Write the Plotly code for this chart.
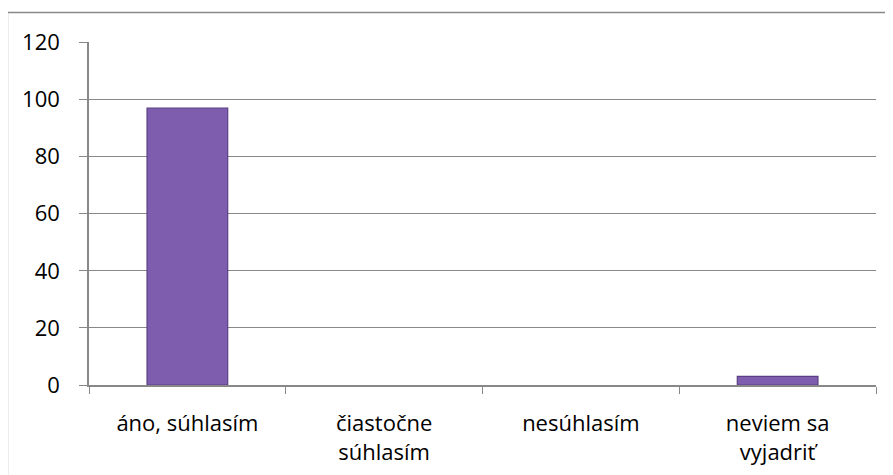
import plotly.graph_objects as go

categories = ["áno, súhlasím", "čiastočne<br>súhlasím", "nesúhlasím", "neviem sa<br>vyjadriť"]
values = [97, 0, 0, 3]
y_ticks = [0, 20, 40, 60, 80, 100, 120]

OFF = 8  # default page body margin
W, H = 893, 475
L, T = 89 - OFF, 42 - OFF
pw, ph = 787, 343
R = W - L - pw
B = H - T - ph

fig = go.Figure()
fig.add_trace(go.Bar(
    x=categories, y=values,
    width=0.41,
    marker=dict(color="#7E5DAE",
                line=dict(color="#5A3F86", width=[1.2 if v > 0 else 0 for v in values])),
))

def px2paper_x(px):
    return (px - OFF - L) / pw

def px2paper_y(py):
    return (T + ph - (py - OFF)) / ph

fig.add_shape(type="rect", xref="paper", yref="paper",
              x0=px2paper_x(7.5), x1=px2paper_x(910),
              y0=px2paper_y(495), y1=px2paper_y(12.5),
              line=dict(color="#888888", width=1.3), fillcolor="rgba(0,0,0,0)", layer="below")

fig.update_layout(
    width=W, height=H,
    margin=dict(l=L, r=R, t=T, b=B),
    paper_bgcolor="white", plot_bgcolor="white",
    showlegend=False,
    font=dict(family="Open Sans, Noto Sans, sans-serif", size=22, color="#000000"),
    xaxis=dict(
        type="category", tickson="boundaries", ticks="outside", ticklen=7,
        tickcolor="#888888", showline=True, linecolor="#888888", linewidth=1.5,
        showgrid=False, tickfont=dict(size=22), automargin=False, ticklabelstandoff=18,
    ),
    yaxis=dict(
        range=[0, 120.2], tickvals=y_ticks, ticks="outside", ticklen=8,
        tickcolor="#888888", showline=True, linecolor="#888888", linewidth=1.5,
        showgrid=True, gridcolor="#888888", gridwidth=1.3, zeroline=False,
        tickfont=dict(size=22), ticklabelstandoff=15, automargin=False,
    ),
)

fig.write_html("out.html")
